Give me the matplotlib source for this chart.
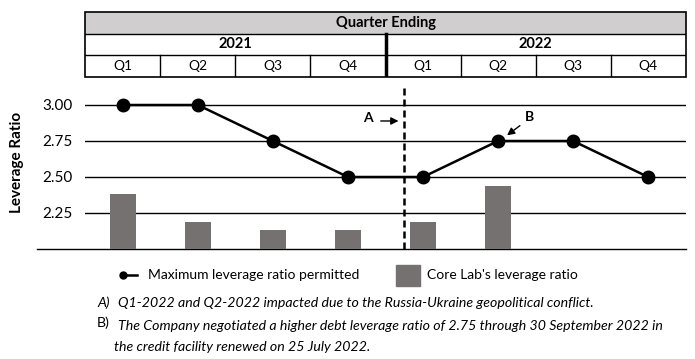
import matplotlib
matplotlib.use("Agg")
import matplotlib.pyplot as plt
from matplotlib.patches import Rectangle
from matplotlib.lines import Line2D

# ---- data ----
quarters = ["Q1", "Q2", "Q3", "Q4", "Q1", "Q2", "Q3", "Q4"]
years = ["2021", "2022"]
header = "Quarter Ending"
max_ratio = [3.00, 3.00, 2.75, 2.50, 2.50, 2.75, 2.75, 2.50]
core_lab = [2.38, 2.19, 2.13, 2.13, 2.19, 2.44]
yticks = [2.25, 2.50, 2.75, 3.00]
ylabel = "Leverage Ratio"
legend_labels = ["Maximum leverage ratio permitted", "Core Lab's leverage ratio"]
note_a = ("A)", "Q1-2022 and Q2-2022 impacted due to the Russia-Ukraine geopolitical conflict.")
note_b = ("B)", "The Company negotiated a higher debt leverage ratio of 2.75 through 30 September 2022 in",
          "the credit facility renewed on 25 July 2022.")

# ---- style ----
plt.rcParams['font.family'] = ['Lato', 'DejaVu Sans']
BAR_COLOR = '#767171'
HEAD_COLOR = '#d0cece'

W, H = 695, 359
fig = plt.figure(figsize=(6.95, 3.59), dpi=100)


def fx(px):
    return px / W


def fy(py):
    return 1 - py / H


L, R = 85.3, 685.7
Y0PX, YTOPPX = 249, 85
ymin = 2.0
ymax = 2.0 + (Y0PX - YTOPPX) / 144.0

ax = fig.add_axes([fx(L), fy(Y0PX), (R - L) / W, (Y0PX - YTOPPX) / H])
ax.set_xlim(-0.5, len(quarters) - 0.5)
ax.set_ylim(ymin, ymax)
for s in ax.spines.values():
    s.set_visible(False)
ax.set_xticks([])
ax.set_yticks(yticks)
ax.set_yticklabels([f"{t:.2f}" for t in yticks], fontsize=11)
ax.tick_params(axis='y', length=0, pad=9)

for t in yticks:
    ax.axhline(t, color='black', lw=1.0, zorder=1)
ax.plot([-0.08, 1], [0, 0], transform=ax.transAxes, clip_on=False, color='black', lw=1.0)

ax.bar(range(len(core_lab)), [v - ymin for v in core_lab], bottom=ymin, width=0.35,
       color=BAR_COLOR, zorder=2)
ax.plot(range(len(max_ratio)), max_ratio, color='black', lw=1.8, marker='o', ms=9, zorder=3)

ax.plot([3.75, 3.75], [ymin, 3.125], color='black', lw=1.8, ls=(0, (2.8, 1.6)), zorder=3)

ax.text(3.267, 2.91, "A", fontsize=10, fontweight='bold', ha='center', va='center')
ax.annotate("", xy=(3.71, 2.889), xytext=(3.40, 2.889),
            arrowprops=dict(arrowstyle='-|>', color='black', lw=1.0, mutation_scale=11))
ax.text(5.425, 2.917, "B", fontsize=10, fontweight='bold', ha='center', va='center')
ax.annotate("", xy=(5.09, 2.778), xytext=(5.32, 2.868),
            arrowprops=dict(arrowstyle='-|>', color='black', lw=1.0, mutation_scale=11))

fig.text(fx(17), fy(162), ylabel, rotation=90, fontsize=11, fontweight='bold',
         ha='center', va='center')

# ---- table ----
T0, T1 = 11.7, 77.3
tax = fig.add_axes([fx(L), fy(T1), (R - L) / W, (T1 - T0) / H])
tax.set_xlim(-0.5, len(quarters) - 0.5)
tax.set_ylim(0, 3)
tax.axis('off')
tax.add_patch(Rectangle((-0.5, 2), 8, 1, facecolor=HEAD_COLOR, edgecolor='none'))
tax.add_patch(Rectangle((-0.5, 0), 8, 3, fill=False, edgecolor='black', lw=1.2, clip_on=False))
tax.plot([-0.5, 7.5], [1, 1], color='black', lw=1.0)
tax.plot([-0.5, 7.5], [2, 2], color='black', lw=1.0)
for i in range(1, len(quarters)):
    if i == 4:
        continue
    tax.plot([i - 0.5, i - 0.5], [0, 1], color='black', lw=1.0)
tax.plot([3.5, 3.5], [0, 2], color='black', lw=2.5)
tax.text(3.5, 2.5, header, fontsize=10.5, fontweight='bold', ha='center', va='center')
for j, y in enumerate(years):
    tax.text(1.5 + 4 * j, 1.5, y, fontsize=10.5, fontweight='bold', ha='center', va='center')
for i, q in enumerate(quarters):
    tax.text(i, 0.5, q, fontsize=10, ha='center', va='center')

# ---- legend ----
fig.add_artist(Line2D([fx(123), fx(137)], [fy(275), fy(275)], color='black', lw=1.8))
fig.add_artist(Line2D([fx(123)], [fy(275)], marker='o', ms=5, color='black'))
fig.text(fx(148), fy(275), legend_labels[0], fontsize=10, ha='left', va='center')
fig.add_artist(Rectangle((fx(396), fy(286)), (420 - 396) / W, (286 - 265) / H,
                         transform=fig.transFigure, color=BAR_COLOR))
fig.text(fx(427), fy(275), legend_labels[1], fontsize=10, ha='left', va='center')

# ---- notes ----
NFS = 10.2
fig.text(fx(97), fy(303), note_a[0], fontsize=NFS, style='italic', ha='left', va='center')
fig.text(fx(118), fy(303), note_a[1], fontsize=NFS, style='italic', ha='left', va='center')
fig.text(fx(97), fy(323), note_b[0], fontsize=NFS, ha='left', va='center')
fig.text(fx(118), fy(326), note_b[1], fontsize=NFS, style='italic', ha='left', va='center')
fig.text(fx(114), fy(347), note_b[2], fontsize=NFS, style='italic', ha='left', va='center')

fig.savefig("out.png", dpi=100)
